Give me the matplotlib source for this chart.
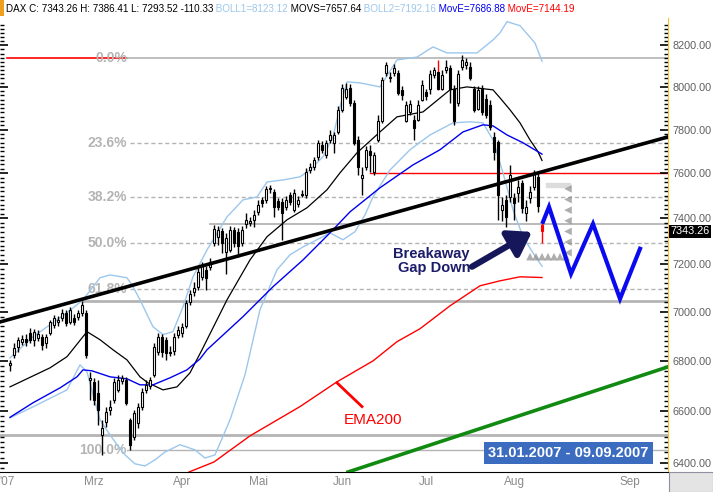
import numpy as np
import matplotlib
matplotlib.use('Agg')
import matplotlib.pyplot as plt
from matplotlib.ticker import FixedLocator, FixedFormatter, NullFormatter
from matplotlib.transforms import blended_transform_factory
from matplotlib.patches import Rectangle

plt.rcParams['font.family'] = ['Liberation Sans', 'DejaVu Sans']

# DAX Tageskerzen 31.01.2007 - 10.08.2007
opens = [6783, 6824, 6857, 6877, 6889, 6914, 6885, 6893, 6897, 6873,
         6914, 6947, 6959, 6976, 6996, 6959, 6976, 6980, 6996, 6996,
         6723, 6715, 6671, 6507, 6557, 6604, 6644, 6683, 6719, 6723,
         6565, 6500, 6553, 6616, 6683, 6699, 6743, 6836, 6897, 6885,
         6836, 6840, 6906, 6914, 6942, 7042, 7084, 7105, 7147, 7177,
         7189, 7293, 7319, 7345, 7254, 7262, 7349, 7341, 7293, 7375,
         7380, 7393, 7428, 7481, 7481, 7530, 7517, 7476, 7472, 7450,
         7503, 7437, 7463, 7503, 7503, 7615, 7629, 7675, 7730, 7684,
         7752, 7740, 7789, 7892, 7953, 7995, 7924, 7752, 7579, 7629,
         7702, 7606, 7752, 7840, 8067, 8043, 8067, 8067, 7986, 7840,
         7882, 7845, 7845, 7939, 7975, 7991, 8057, 8072, 7991, 8081,
         8091, 7991, 7924, 8096, 8105, 8096, 7991, 7896, 7995, 7943,
         7915, 7765, 7743, 7437, 7481, 7494, 7490, 7512, 7557, 7424,
         7490, 7539, 7583, 7371]
highs = [6803, 6872, 6897, 6906, 6910, 6934, 6930, 6926, 6910, 6910,
         6967, 6988, 6984, 7013, 7009, 7021, 6992, 7009, 7046, 7009,
         6755, 6731, 6723, 6565, 6616, 6644, 6731, 6743, 6743, 6735,
         6573, 6604, 6632, 6691, 6723, 6735, 6873, 6914, 6910, 6897,
         6861, 6914, 6942, 6955, 7050, 7092, 7126, 7185, 7211, 7194,
         7228, 7371, 7366, 7358, 7336, 7366, 7362, 7358, 7366, 7424,
         7406, 7437, 7481, 7494, 7544, 7548, 7530, 7490, 7490, 7499,
         7517, 7530, 7499, 7526, 7624, 7647, 7675, 7752, 7748, 7752,
         7798, 7789, 7910, 8015, 8020, 8015, 7939, 7770, 7629, 7725,
         7730, 7698, 7868, 8048, 8120, 8072, 8110, 8081, 8005, 7934,
         7939, 7868, 7939, 8034, 7990, 8081, 8096, 8129, 8081, 8129,
         8105, 8010, 8081, 8153, 8139, 8120, 8005, 8005, 8010, 7967,
         7939, 7789, 7752, 7494, 7503, 7638, 7512, 7570, 7570, 7481,
         7544, 7615, 7606, 7386]
lows = [6759, 6812, 6836, 6865, 6861, 6873, 6861, 6881, 6844, 6852,
        6906, 6934, 6942, 6963, 6942, 6951, 6947, 6967, 6984, 6812,
        6644, 6624, 6546, 6430, 6538, 6585, 6632, 6675, 6707, 6624,
        6449, 6488, 6534, 6604, 6671, 6687, 6735, 6824, 6816, 6803,
        6820, 6824, 6893, 6897, 6934, 7030, 7067, 7092, 7134, 7092,
        7177, 7280, 7284, 7249, 7160, 7254, 7275, 7232, 7280, 7358,
        7366, 7362, 7415, 7450, 7468, 7512, 7406, 7437, 7306, 7437,
        7459, 7428, 7450, 7494, 7490, 7602, 7615, 7661, 7693, 7670,
        7740, 7693, 7780, 7882, 7943, 7910, 7730, 7593, 7503, 7615,
        7606, 7593, 7743, 7831, 8053, 8024, 8053, 7962, 7939, 7835,
        7868, 7752, 7840, 7934, 7940, 7967, 8043, 7986, 7986, 8067,
        7924, 7822, 7910, 8081, 8086, 8034, 7882, 7892, 7868, 7854,
        7798, 7661, 7393, 7389, 7362, 7472, 7393, 7472, 7424, 7389,
        7468, 7526, 7428, 7293]
closes = [6791, 6852, 6885, 6889, 6877, 6885, 6918, 6910, 6865, 6897,
          6959, 6976, 6967, 6996, 6955, 7009, 6959, 6996, 7030, 6824,
          6731, 6644, 6604, 6534, 6596, 6616, 6715, 6723, 6731, 6632,
          6469, 6593, 6616, 6675, 6703, 6723, 6857, 6897, 6836, 6832,
          6832, 6897, 6926, 6938, 7038, 7075, 7101, 7168, 7198, 7142,
          7211, 7354, 7349, 7293, 7315, 7349, 7293, 7280, 7349, 7393,
          7389, 7415, 7459, 7468, 7530, 7535, 7450, 7450, 7424, 7481,
          7472, 7512, 7481, 7508, 7606, 7629, 7661, 7740, 7707, 7740,
          7775, 7775, 7892, 7995, 7991, 7924, 7740, 7629, 7593, 7707,
          7684, 7684, 7840, 8034, 8105, 8048, 8091, 7972, 7962, 7915,
          7920, 7807, 7915, 8010, 7955, 8062, 8081, 7991, 8057, 8096,
          7991, 7840, 8062, 8129, 8120, 8043, 7892, 7986, 7882, 7868,
          7812, 7698, 7503, 7459, 7406, 7593, 7468, 7539, 7446, 7450,
          7517, 7602, 7454, 7343.26]

# Indikatoren (Balkennummer, Kurs)
movs_x = [0, 10, 14.25, 19.25, 22.5, 25.75, 29.25, 32.5, 34.5, 38.25, 41.75, 45, 48,
          54.25, 60, 64.25, 69.25, 74.25, 79.25, 82.5, 86.75, 92.5, 96.75, 103.25,
          110, 114.25, 120.75, 122.5, 125, 127.5, 130, 132, 133]
movs_y = [6695, 6771, 6816, 6918, 6885, 6844, 6803, 6735, 6711, 6683, 6695, 6751, 6844,
          7050, 7219, 7319, 7393, 7446, 7526, 7602, 7693, 7789, 7859, 7882,
          7986, 8000, 7986, 7948, 7892, 7831, 7752, 7698, 7658]
ema50_x = [0, 5.75, 12.5, 16.75, 18.25, 20.5, 25, 29.25, 32.5, 35.75, 40, 44.25, 47.5,
           49.25, 58.25, 65.75, 73.25, 80, 85, 92.5, 100.75, 107.5, 113.25, 118.25,
           120.75, 124.25, 128.25, 133]
ema50_y = [6575, 6632, 6691, 6735, 6763, 6759, 6735, 6727, 6703, 6703, 6731, 6763, 6807,
           6844, 6980, 7105, 7219, 7336, 7428, 7535, 7638, 7707, 7789, 7822,
           7817, 7775, 7739, 7687]
ema200_x = [44.75, 51, 60, 72.5, 81.75, 90.75, 96.75, 102.5, 110, 117.5, 122.5, 127.5, 133]
ema200_y = [6365, 6403, 6503, 6617, 6715, 6799, 6877, 6930, 7025, 7109, 7130, 7147, 7144]
boll1_x = [0, 5.75, 14.25, 18.25, 22.5, 25, 29.25, 30.75, 32.5, 35.75, 38.25, 40.75,
           43.25, 45.75, 49.25, 54.25, 58.25, 61.75, 64.25, 68.25, 72.5, 75, 78.25,
           80.75, 82.5, 84.25, 87.5, 92.5, 96.75, 101.75, 105.75, 109.25, 116.75,
           120.75, 122.5, 124.25, 127.5, 129.5, 131.25, 133]
boll1_y = [6811, 6897, 6996, 7050, 7143, 7155, 7143, 7105, 7050, 6938, 6906, 6918,
           7021, 7147, 7262, 7406, 7481, 7494, 7561, 7570, 7584, 7615, 7675,
           7766, 7906, 8024, 8019, 8000, 8129, 8143, 8192, 8163, 8163,
           8226, 8261, 8316, 8296, 8251, 8211, 8123]
boll2_x = [0, 5.75, 14.25, 17.5, 19.25, 20.75, 22.5, 25, 26.75, 28.75, 31.25, 33.75,
           36.25, 38.75, 42.5, 46.25, 48.75, 51.25, 55, 58.75, 62.5, 66.75, 70, 73.25,
           76.75, 80, 83.25, 86.25, 88.75, 90.75, 95, 100, 105, 110.75, 115, 118.25,
           120.75, 123.25, 125.75, 128.25, 130.75, 133]
boll2_y = [6573, 6616, 6683, 6783, 6755, 6664, 6565, 6507, 6469, 6430, 6396, 6388,
           6411, 6441, 6469, 6449, 6418, 6430, 6565, 6743, 7009, 7177, 7241, 7275,
           7306, 7336, 7306, 7341, 7415, 7494, 7615, 7707, 7775, 7831, 7836, 7831,
           7752, 7602, 7437, 7319, 7249, 7192]

# Prognose-Zickzack
prog_x = [133.25, 134.75, 140.25, 145.75, 152.5, 157.5]
prog_y = [7384, 7450, 7160, 7375, 7054, 7267]

# Fibonacci
fib_hi, fib_lo = 8139, 6449
fib_pct = [0.0, 23.6, 38.2, 50.0, 61.8, 100.0]

month_pos = [-0.75, 21, 43, 62, 83, 104, 126, 155]
month_lbl = ["'07", 'Mrz', 'Apr', 'Mai', 'Jun', 'Jul', 'Aug', 'Sep']
yticks = list(range(6400, 8201, 200))

fig = plt.figure(figsize=(7.13, 4.92), dpi=100)
ax = fig.add_axes([0, 20/492, 668/713, 454/492])
ax.set_yscale('log')
ax.set_xlim(-2.5, 164.5)
ax.set_ylim(6365, 8334)

# horizontale Linien
for p in fib_pct:
    lvl = fib_hi - p/100*(fib_hi - fib_lo)
    if p == 0.0:
        ax.plot([-0.75, 29.25], [lvl, lvl], color='red', lw=1.2, zorder=1)
        ax.plot([29.25, 164.5], [lvl, lvl], color='#b4b4b4', lw=1.2, zorder=1)
    elif p == 100.0:
        ax.plot([29.25, 164.5], [lvl, lvl], color='#b4b4b4', lw=1, zorder=1)
    else:
        ax.plot([30, 164.5], [lvl, lvl], color='#b4b4b4', lw=1, ls=(0, (3, 2)), zorder=1)
    ax.text(29.25, lvl, '%.1f%%' % p, ha='right', va='center', color='#b4b4b4',
            fontsize=10, fontweight='bold', zorder=2)
ax.plot([18.25, 164.5], [7046, 7046], color='#b4b4b4', lw=2, zorder=1)
ax.plot([-2.5, 164.5], [6507, 6507], color='#b4b4b4', lw=2, zorder=1)
ax.plot([50, 164.5], [7375, 7375], color='#b4b4b4', lw=1.3, zorder=1)
ax.plot([90, 164.5], [7602, 7602], color='red', lw=1, zorder=1)

# Trendlinien
ax.plot([-2.5, 164.5], [6958, 7766], color='black', lw=2.6, zorder=6)
ax.plot([84.5, 164.5], [6365, 6775], color='#108a10', lw=2.6, zorder=6)

# Indikatoren
ax.plot(boll1_x, boll1_y, color='#9cc7ec', lw=1, zorder=2)
ax.plot(boll2_x, boll2_y, color='#9cc7ec', lw=1, zorder=2)
ax.plot(movs_x, movs_y, color='black', lw=0.9, zorder=2)
ax.plot(ema50_x, ema50_y, color='#0000ee', lw=1, zorder=2)
ax.plot(ema200_x, ema200_y, color='red', lw=1, zorder=2)

# Kerzen
o = np.array(opens, float)
c = np.array(closes, float)
x = np.arange(len(c))
wick_col = ['black'] * len(c)
wick_col[107] = 'red'
wick_col[-1] = 'red'
body_col = np.where(c >= o, 'white', 'black').tolist()
body_col[-1] = 'red'
edge_col = ['black'] * len(c)
edge_col[-1] = 'red'
ax.vlines(x, lows, highs, colors=wick_col, lw=1, zorder=4)
ax.bar(x, c - o, bottom=o, width=0.7, color=body_col, edgecolor=edge_col, lw=0.8, zorder=5)

# Prognose
ax.plot(prog_x, prog_y, color='#0a0af0', lw=3, zorder=7, solid_joinstyle='miter')
gx = np.linspace(134.5, 139.5, 6)
ax.plot(gx, [7548] * len(gx), ls='none', marker='s', ms=2.5, color='#dcdcdc', zorder=3)
ax.scatter([139.5] * 7, np.geomspace(7530, 7250, 7), marker='<', s=30, color='#8c8c8c',
           alpha=0.7, edgecolors='none', zorder=3)
ax.scatter(np.linspace(130, 139, 7), [7233] * 7, marker='^', s=30, color='#8c8c8c',
           alpha=0.7, edgecolors='none', zorder=3)

# Beschriftungen
ax.text(115, 7215, 'Breakaway\nGap Down', ha='right', va='center', multialignment='right',
        color='#1c1c6a', fontsize=10.5, fontweight='bold', linespacing=1.05, zorder=8)
ax.annotate('', xy=(130.5, 7340), xytext=(115.5, 7190),
            arrowprops=dict(arrowstyle='-|>,head_length=0.9,head_width=0.6',
                            mutation_scale=15, lw=4.5, color='#16165a',
                            shrinkA=0, shrinkB=0), zorder=8)
ax.plot([81.75, 88], [6711, 6617], color='red', lw=2, zorder=8)
ax.text(90.75, 6565, 'EMA200', ha='center', va='center', color='red', fontsize=11, zorder=8)

# Achsen
ax.yaxis.set_major_locator(FixedLocator(yticks))
ax.yaxis.set_major_formatter(FixedFormatter(['%.2f' % v for v in yticks]))
ax.yaxis.set_minor_locator(FixedLocator(list(range(6380, 8320, 20))))
ax.yaxis.set_minor_formatter(NullFormatter())
ax.tick_params(axis='y', which='both', direction='in', left=True, right=True,
               labelleft=False, labelright=True, labelcolor='#606060', labelsize=7.8, pad=3)
ax.tick_params(axis='y', which='major', length=6, width=1.2)
ax.tick_params(axis='y', which='minor', length=3, width=1)
ax.set_xticks(month_pos)
ax.set_xticklabels(month_lbl, color='#8a8a8a', fontsize=8.5)
ax.tick_params(axis='x', length=0, pad=3)
ax.spines['top'].set_visible(False)
ax.spines['left'].set_visible(False)
ax.spines['right'].set_color('#f2c232')
ax.spines['bottom'].set_color('black')

tr = blended_transform_factory(ax.transAxes, ax.transData)
ax.text(1.004, 7343.26, '7343.26', transform=tr, ha='left', va='center', color='white',
        fontsize=7.8, bbox=dict(fc='black', ec='none', pad=1), zorder=9, clip_on=False)

# Kopfzeile
parts = [('DAX C: 7343.26 H: 7386.41 L: 7293.52 -110.33', 'black'),
         (' BOLL1=8123.12', '#9cc7ec'), (' MOVS=7657.64', 'black'),
         (' BOLL2=7192.16', '#9cc7ec'), (' MovE=7686.88', '#0000ee'),
         (' MovE=7144.19', 'red')]
prev = fig.text(6/713, 1 - 9/492, parts[0][0], color=parts[0][1], fontsize=7.1, va='center')
for s, col in parts[1:]:
    prev = ax.annotate(s, xy=(1, 0.5), xycoords=prev, ha='left', va='center', color=col,
                       fontsize=7.1, annotation_clip=False)

fig.patches.append(Rectangle((0, 1 - 16/492), 4/713, 16/492, transform=fig.transFigure,
                             fc='#f0a020', ec='none'))
fig.patches.append(Rectangle((484/713, 1 - 464/492), 169/713, 22/492, transform=fig.transFigure,
                             fc='#3c6cc0', ec='none', zorder=10))
fig.text(568.5/713, 1 - 453/492, '31.01.2007 - 09.09.2007', ha='center', va='center',
         color='white', fontsize=10.5, fontweight='bold', zorder=11)
fig.patches.append(Rectangle((669/713, 0), 44/713, 20/492, transform=fig.transFigure,
                             fc='#e4e4e4', ec='#9090a0', lw=0.8))

fig.savefig('out.png', dpi=100)
